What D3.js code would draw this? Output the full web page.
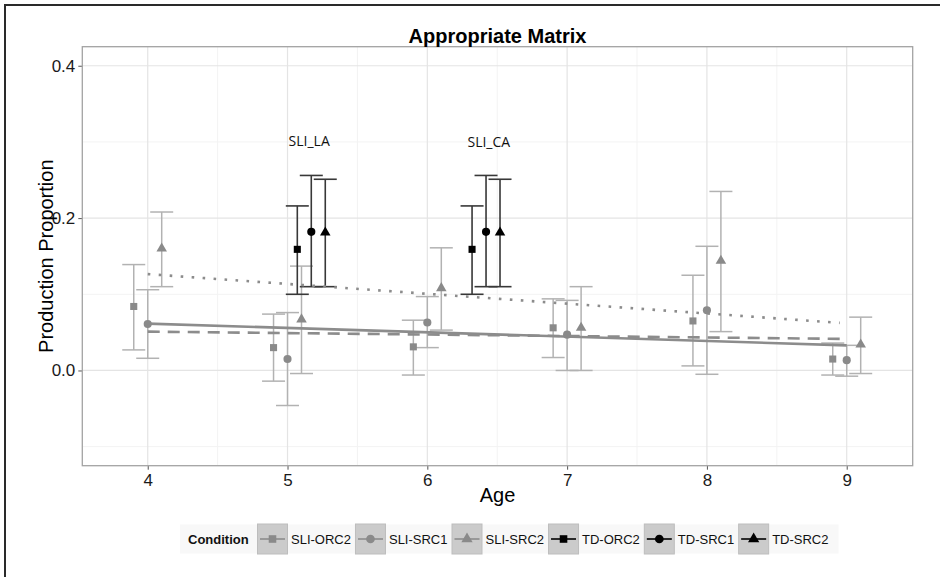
<!DOCTYPE html>
<html><head><meta charset="utf-8">
<script src="https://cdn.jsdelivr.net/npm/d3@7"></script>
<style>
body{margin:0;background:#fff;}
svg{display:block;font-family:"Liberation Sans",Arial,sans-serif;}
</style>
</head><body>
<svg id="chart" width="940" height="577"></svg>
<script>
// ---------------- data ----------------
const title = "Appropriate Matrix";
const xTitle = "Age";
const yTitle = "Production Proportion";
const legendTitle = "Condition";
const conditions = ["SLI-ORC2","SLI-SRC1","SLI-SRC2","TD-ORC2","TD-SRC1","TD-SRC2"];

const xTicks = [4,5,6,7,8,9];
const yTicks = [0.0, 0.2, 0.4];
const yTickLabels = ["0.0","0.2","0.4"];

// SLI groups (ages 4..9), dodged around each age
const sliAges = [4,5,6,7,8,9];
const sliOrc2Mean = [0.084, 0.030, 0.031, 0.056, 0.065, 0.015];
const sliOrc2Lo   = [0.027,-0.014,-0.006, 0.017, 0.006,-0.006];
const sliOrc2Hi   = [0.139, 0.074, 0.066, 0.094, 0.125, 0.036];

const sliSrc1Mean = [0.061, 0.015, 0.063, 0.047, 0.079, 0.0135];
const sliSrc1Lo   = [0.016,-0.046, 0.030, 0.000,-0.005,-0.0075];
const sliSrc1Hi   = [0.106, 0.076, 0.097, 0.092, 0.163, 0.033];

const sliSrc2Mean = [0.160, 0.067, 0.108, 0.056, 0.144, 0.034];
const sliSrc2Lo   = [0.110,-0.004, 0.053, 0.000, 0.051,-0.004];
const sliSrc2Hi   = [0.208, 0.137, 0.161, 0.110, 0.235, 0.070];

// TD comparison groups (plotted at the SLI_LA and SLI_CA positions)
const tdOrc2Ages = [5.07, 6.32];
const tdSrc1Ages = [5.17, 6.42];
const tdSrc2Ages = [5.27, 6.52];
const tdOrc2Mean = [0.159, 0.159]; const tdOrc2Lo = [0.100, 0.100]; const tdOrc2Hi = [0.216, 0.216];
const tdSrc1Mean = [0.182, 0.182]; const tdSrc1Lo = [0.110, 0.110]; const tdSrc1Hi = [0.256, 0.256];
const tdSrc2Mean = [0.181, 0.181]; const tdSrc2Lo = [0.110, 0.110]; const tdSrc2Hi = [0.251, 0.251];

// fitted trend lines (start/end age and value)
const trendSrc1Ages = [4, 9];    const trendSrc1Vals = [0.0615, 0.033];
const trendOrc2Ages = [4, 8.95]; const trendOrc2Vals = [0.051, 0.0415];
const trendSrc2Ages = [4, 8.95]; const trendSrc2Vals = [0.1265, 0.0625];

// annotations
const annoLabels = ["SLI_LA", "SLI_CA"];
const annoAges   = [5.155, 6.44];
const annoVals   = [0.295, 0.293];

// ---------------- layout ----------------
const W = 940, H = 577;
const M = {left: 82.3, right: 27.3, top: 46.7, bottom: 111.3};
const svg = d3.select("#chart");
svg.append("rect").attr("width", W).attr("height", H).attr("fill", "#fff");
// outer frame (only top/left visible)
svg.append("rect").attr("x", 5).attr("y", 5).attr("width", W + 10).attr("height", H + 10)
  .attr("fill", "none").attr("stroke", "#2a2a2a").attr("stroke-width", 2);

const x = d3.scaleLinear().domain([3.532, 9.472]).range([M.left, W - M.right]);
const y = d3.scaleLinear().domain([-0.125, 0.425]).range([H - M.bottom, M.top]);

const SLI_PT = "#8a8a8a", SLI_BAR = "#b2b2b2", SLI_LINE = "#8c8c8c";
const TD_PT = "#000", TD_BAR = "#383838";

const g = svg.append("g");
// grid
const minorX = d3.range(3.5, 9.6, 1).filter(v => v > 3.532 && v < 9.472);
const minorY = [-0.1, 0.1, 0.3];
g.selectAll(".mgx").data(minorX).join("line")
  .attr("x1", d => x(d)).attr("x2", d => x(d)).attr("y1", M.top).attr("y2", H - M.bottom)
  .attr("stroke", "#f3f3f3").attr("stroke-width", 1);
g.selectAll(".mgy").data(minorY).join("line")
  .attr("y1", d => y(d)).attr("y2", d => y(d)).attr("x1", M.left).attr("x2", W - M.right)
  .attr("stroke", "#f3f3f3").attr("stroke-width", 1);
g.selectAll(".gx").data(xTicks).join("line")
  .attr("x1", d => x(d)).attr("x2", d => x(d)).attr("y1", M.top).attr("y2", H - M.bottom)
  .attr("stroke", "#e4e4e4").attr("stroke-width", 1.2);
g.selectAll(".gy").data(yTicks).join("line")
  .attr("y1", d => y(d)).attr("y2", d => y(d)).attr("x1", M.left).attr("x2", W - M.right)
  .attr("stroke", "#e4e4e4").attr("stroke-width", 1.2);

// axes
const xAxis = d3.axisBottom(x).tickValues(xTicks).tickFormat(d3.format("d")).tickSize(4).tickPadding(4);
const yAxis = d3.axisLeft(y).tickValues(yTicks).tickFormat((d,i) => yTickLabels[i]).tickSize(4).tickPadding(3);
const gx = svg.append("g").attr("transform", `translate(0,${H - M.bottom})`).call(xAxis);
const gy = svg.append("g").attr("transform", `translate(${M.left},0)`).call(yAxis);
[gx, gy].forEach(a => {
  a.select(".domain").remove();
  a.selectAll(".tick line").attr("stroke", "#555").attr("stroke-width", 1);
  a.selectAll(".tick text").attr("fill", "#1a1a1a").style("font-size", "17px")
    .style("font-family", "'Liberation Sans', Arial, sans-serif");
});

// build series
function mk(ages, mean, lo, hi, off) {
  return ages.map((a, i) => ({x: a + off, m: mean[i], lo: lo[i], hi: hi[i]}));
}
const series = [
  {name: conditions[0], pts: mk(sliAges, sliOrc2Mean, sliOrc2Lo, sliOrc2Hi, -0.1), shape: d3.symbolSquare, size: 50, pc: SLI_PT, bc: SLI_BAR, bw: 1.5},
  {name: conditions[1], pts: mk(sliAges, sliSrc1Mean, sliSrc1Lo, sliSrc1Hi, 0), shape: d3.symbolCircle, size: 52, pc: SLI_PT, bc: SLI_BAR, bw: 1.5},
  {name: conditions[2], pts: mk(sliAges, sliSrc2Mean, sliSrc2Lo, sliSrc2Hi, 0.1), shape: d3.symbolTriangle, size: 48, pc: SLI_PT, bc: SLI_BAR, bw: 1.5},
  {name: conditions[3], pts: mk(tdOrc2Ages, tdOrc2Mean, tdOrc2Lo, tdOrc2Hi, 0), shape: d3.symbolSquare, size: 50, pc: TD_PT, bc: TD_BAR, bw: 1.6},
  {name: conditions[4], pts: mk(tdSrc1Ages, tdSrc1Mean, tdSrc1Lo, tdSrc1Hi, 0), shape: d3.symbolCircle, size: 52, pc: TD_PT, bc: TD_BAR, bw: 1.6},
  {name: conditions[5], pts: mk(tdSrc2Ages, tdSrc2Mean, tdSrc2Lo, tdSrc2Hi, 0), shape: d3.symbolTriangle, size: 48, pc: TD_PT, bc: TD_BAR, bw: 1.6},
];
const CAP = 11.5;
const plot = svg.append("g");
// error bars
series.forEach(s => {
  const eb = plot.append("g").attr("stroke", s.bc).attr("stroke-width", s.bw).attr("fill", "none");
  s.pts.forEach(p => {
    eb.append("line").attr("x1", x(p.x)).attr("x2", x(p.x)).attr("y1", y(p.lo)).attr("y2", y(p.hi));
    eb.append("line").attr("x1", x(p.x) - CAP).attr("x2", x(p.x) + CAP).attr("y1", y(p.lo)).attr("y2", y(p.lo));
    eb.append("line").attr("x1", x(p.x) - CAP).attr("x2", x(p.x) + CAP).attr("y1", y(p.hi)).attr("y2", y(p.hi));
  });
});
// trend lines
const line = d3.line().x(d => x(d[0])).y(d => y(d[1]));
const trends = [
  {a: trendSrc1Ages, v: trendSrc1Vals, dash: null, w: 2.6},
  {a: trendOrc2Ages, v: trendOrc2Vals, dash: "12,8", w: 2.6},
  {a: trendSrc2Ages, v: trendSrc2Vals, dash: "2.6,8.4", w: 2.6},
];
trends.forEach(t => {
  plot.append("path").datum(t.a.map((a, i) => [a, t.v[i]]))
    .attr("d", line).attr("fill", "none").attr("stroke", SLI_LINE)
    .attr("stroke-width", t.w).attr("stroke-dasharray", t.dash);
});
// points
series.forEach(s => {
  plot.append("g").selectAll("path").data(s.pts).join("path")
    .attr("transform", p => `translate(${x(p.x)},${y(p.m)})`)
    .attr("d", d3.symbol(s.shape, s.size)).attr("fill", s.pc);
});

// panel border
svg.append("rect").attr("x", M.left).attr("y", M.top)
  .attr("width", W - M.left - M.right).attr("height", H - M.top - M.bottom)
  .attr("fill", "none").attr("stroke", "#a3a3a3").attr("stroke-width", 1.3);

// annotations
annoLabels.forEach((t, i) => {
  svg.append("text").attr("x", x(annoAges[i])).attr("y", y(annoVals[i]))
    .attr("text-anchor", "middle").style("font-family", "'Open Sans', sans-serif")
    .style("font-size", "14px").attr("fill", "#111").text(t);
});

// titles
svg.append("text").attr("x", (M.left + W - M.right) / 2).attr("y", 43)
  .attr("text-anchor", "middle").style("font-size", "20px").style("font-weight", "bold")
  .attr("fill", "#000").text(title);
svg.append("text").attr("x", (M.left + W - M.right) / 2).attr("y", 502)
  .attr("text-anchor", "middle").style("font-size", "20px").attr("fill", "#000").text(xTitle);
svg.append("text").attr("transform", `translate(53,${(M.top + H - M.bottom) / 2}) rotate(-90)`)
  .attr("text-anchor", "middle").style("font-size", "20px").attr("fill", "#000").text(yTitle);

// legend
const lg = svg.append("g");
const LY = 523.5, KS = 31;
const bg = lg.append("rect").attr("y", LY + 1).attr("height", KS - 2).attr("fill", "#f8f8f8");
const lt = lg.append("text").attr("x", 188).attr("y", LY + KS / 2 + 4.5)
  .style("font-size", "13px").style("font-weight", "bold").attr("fill", "#111").text(legendTitle);
let lx = 257;
series.forEach(s => {
  const k = lg.append("g").attr("transform", `translate(${lx},${LY})`);
  k.append("rect").attr("x", 0.5).attr("y", 0.5).attr("width", KS - 1).attr("height", KS - 1)
    .attr("fill", "#cbcbcb").attr("stroke", "#bdbdbd");
  k.append("line").attr("x1", 3).attr("x2", KS - 3).attr("y1", KS / 2).attr("y2", KS / 2)
    .attr("stroke", s.pc === TD_PT ? "#000" : SLI_LINE).attr("stroke-width", 1.6);
  k.append("path").attr("transform", `translate(${KS / 2},${KS / 2})`)
    .attr("d", d3.symbol(s.shape, s.size * 1.15)).attr("fill", s.pc);
  const t = lg.append("text").attr("x", lx + KS + 3).attr("y", LY + KS / 2 + 4.5)
    .style("font-size", "13px").attr("fill", "#111").text(s.name);
  lx = lx + KS + 3 + t.node().getComputedTextLength() + 4;
});
bg.attr("x", 180).attr("width", lx - 180 + 6);
</script>
</body></html>
